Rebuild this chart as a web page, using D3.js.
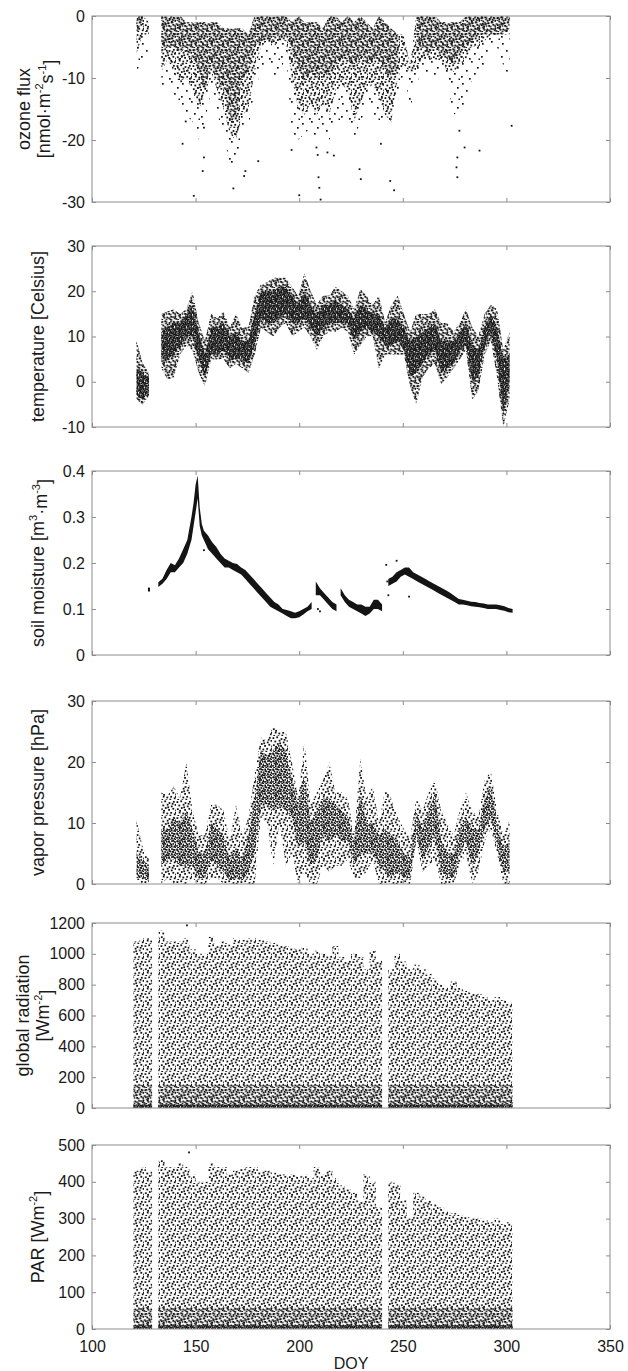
<!DOCTYPE html>
<html><head><meta charset="utf-8">
<script src="https://cdn.jsdelivr.net/npm/d3@7/dist/d3.min.js"></script>
<style>
body{margin:0;background:#fff}
svg{display:block}
</style>
</head><body><svg id="c" width="628" height="1371"></svg>
<script>
// ---------- DATA ----------
// 3-day bins (start DOY)
const binStart = [120,123,126,129,132,135,138,141,144,147,150,153,156,159,162,165,168,171,174,177,180,183,186,189,192,195,198,201,204,207,210,213,216,219,222,225,228,231,234,237,240,243,246,249,252,255,258,261,264,267,270,273,276,279,282,285,288,291,294,297,300];

// ozone flux [nmol m-2 s-1]
const ozoneHi = [0,0,-1,null,0, 0,0,0,-1,-1, -1,-1,-1,-1,-2, -2,-2,-2,-3,0, 0,0,0,0,0, -1,0,-1,-1,-1, -2,0,0,-1,0, -1,0,-1,-2,0, -1,-2,-3,-3,-8, 0,0,0,0,-1, -1,-1,-1,0,0, 0,0,0,0,0, 0];
const ozoneDenseLo = [-3,-1,null,null,-6, -5,-5,-6,-5,-7, -9,-12,-8,-10,-12, -16,-17,-10,-9,-5, -4,-4,-4,-3,-3, -6,-8,-11,-9,-10, -9,-10,-8,-7,-7, -9,-6,-8,-7,-7, -9,-10,-8,null,null, -6,-5,-6,-5,-6, -7,-8,-6,-5,-4, -3,-3,-3,-3,-3, -2];
const ozoneCoreLo = [-6,-3,-3,null,-9, -7,-9,-11,-10,-12, -15,-13,-9,-12,-15, -19,-20,-16,-15,-9, -5,-4,-5,-4,-4, -10,-15,-16,-14,-16, -14,-16,-12,-11,-12, -17,-14,-12,-11,-13, -16,-17,-10,-8,-9, -9,-7,-7,-7,-7, -9,-9,-8,-7,-5, -5,-4,-3,-3,-3, -3];
const ozoneLo = [-9,-7,-7,null,-13, -10,-13,-15,-16,-17, -20,-17,-12,-16,-19, -24,-25,-18,-18,-12, -9,-7,-10,-10,-6, -19,-20,-19,-18,-20, -18,-20,-18,-17,-16, -20,-17,-15,-16,-17, -17,-17,-14,-9,-15, -11,-9,-10,-10,-9, -11,-16,-15,-14,-10, -10,-8,-5,-5,-8, -10];
const ozoneOutDoy = [143.7,149.1,154,153.4,168.2,173.4,174,180.2,196.3,200,208.3,208.9,209.3,209.7,210.3,213.6,216.7,229.1,229.7,239.4,243.9,245.8,275.9,276.3,279.8,287,302.5,145.2,154,277.3,276.3];
const ozoneOutVal = [-20.6,-29,-22.8,-25,-27.8,-25.8,-25,-23.4,-21.6,-28.9,-21.2,-22.4,-26,-27.7,-29.6,-22,-22.5,-24.7,-26.3,-20.6,-26.6,-28.1,-24.4,-26,-21.2,-21.7,-17.7,-17,-18,-18.5,-22.8];

// temperature [Celsius]
const tempLo = [-4,-5,-3,null,3, 0.5,1,6,8,7, 2,-1,5,5,5, 3,4,3,2,6, 12,11,10,12,13, 10,11,12,10,7, 10,11,11,12,11, 6,8,10,10,3, 6,6,6,6,-1, -5,1,3,4,-0.5, 1,3,5,7,-4, -2,6,9,1,-10, -4];
const tempHi = [9,4,2,null,15, 15.5,16,15,16,20, 13,9,15,14,15.5, 12,15,12,12,19, 21.5,22,23,23,23, 21,19,24,20,17, 19,19,21,20,19, 16,20.5,19,17,19, 13,17,19,15,11, 15,15,15,16,13, 13,11,13,16,12, 10,15,17,16,7, 11];
const tempCoreLo = [-3,-4,-2,null,5, 5,6,8,10,10, 5,1,6,6,7, 5,5,5,4,8, 14,13,13,14,15, 13,13,14,12,10, 12,13,13,13,13, 9,11,12,11,10, 8,8,9,7,1, 2,4,6,7,2, 3,4,7,8,0, 1,8,11,5,-7, 0];
const tempCoreHi = [3,2,1,null,11, 12,13,13,15,17, 11,6,12,12,13, 10,11,9,9,15, 20,20,20,21,21, 19,17,20,17,15, 17,17,18,17,16, 14,17,16,15,15, 12,14,14,12,9, 10,11,12,13,9, 9,9,11,13,8, 7,12,15,12,5, 6];

// soil moisture [m3 m-3]  (null = gap in record)
const soilDoy = [127,128,130,132,134,136,138,140,142,144,146,148,149,150,151,152,153,154,156,158,160,162,164,166,168,170,172,174,176,178,180,182,184,186,188,190,192,194,196,198,200,202,204,206,207,208,210,212,214,216,218,219,220,222,224,226,228,230,232,234,236,238,240,241.5,243,245,247,249,251,253,255,257,259,261,263,265,267,269,271,273,275,277,279,281,283,285,287,289,291,293,295,297,299,301,303];
const soilLo = [0.138,0.138,null,0.148,0.155,0.165,0.18,0.18,0.19,0.2,0.22,0.25,0.28,0.31,0.34,0.28,0.26,0.25,0.23,0.22,0.21,0.2,0.19,0.19,0.185,0.18,0.175,0.165,0.155,0.145,0.135,0.125,0.115,0.105,0.1,0.095,0.09,0.085,0.08,0.08,0.082,0.088,0.095,0.1,null,0.13,0.13,0.12,0.11,0.1,0.095,null,0.13,0.115,0.105,0.1,0.095,0.09,0.085,0.09,0.1,0.1,0.095,null,0.15,0.155,0.16,0.17,0.175,0.17,0.165,0.16,0.155,0.15,0.145,0.14,0.135,0.13,0.125,0.12,0.115,0.11,0.11,0.108,0.106,0.105,0.104,0.102,0.1,0.1,0.1,0.098,0.096,0.093,0.092];
const soilHi = [0.147,0.146,null,0.158,0.166,0.185,0.2,0.195,0.21,0.23,0.25,0.3,0.33,0.37,0.39,0.32,0.285,0.27,0.26,0.245,0.235,0.22,0.21,0.205,0.2,0.198,0.19,0.185,0.175,0.165,0.155,0.145,0.135,0.125,0.115,0.11,0.1,0.098,0.095,0.092,0.095,0.1,0.105,0.115,null,0.16,0.145,0.135,0.125,0.115,0.11,null,0.145,0.13,0.12,0.115,0.11,0.11,0.105,0.105,0.12,0.12,0.11,null,0.165,0.17,0.18,0.185,0.19,0.19,0.18,0.175,0.17,0.165,0.16,0.155,0.15,0.145,0.14,0.135,0.128,0.122,0.12,0.118,0.116,0.115,0.113,0.112,0.11,0.11,0.11,0.108,0.106,0.102,0.1];
const soilOutDoy = [154,253,242,242.5,243,247,209,210];
const soilOutVal = [0.228,0.127,0.196,0.16,0.13,0.205,0.1,0.095];

// vapor pressure [hPa]
const vapLo = [0.5,0,0,null,0, 1,0,0,0,1, 0,0,1,1,0, 0,0,0,0,0, 11,10,3,10,3, 5,0,2,0,0, 3,2,3,3,4, 1,1,2,4,0, 0,0,0,0,0, 7,2,3,4,0, 0,0,3,5,0, 2,7,9,5,0, 0];
const vapHi = [10.5,6,4,null,15, 14.5,16,14,20,12, 8,8,13,13,12, 7,13,8,11,18, 24,23.5,26,25,25, 20,14,23.5,13,15, 17,20,15,15,14, 8,20.5,14,16,10, 15.5,14,11,9,7.5, 14,12,15,17,12, 10,8,12,15,12, 11,17,18.5,12,8, 10.5];
const vapCoreLo = [1,1,0.5,null,3, 4,4,3,3,3, 1,1,4,3,2, 0.5,1,0.5,2,5, 13,13,12,13,12, 11,6,7,3,4, 8,7,8,7,7, 3,5,5,5,3, 2,1,2,1,1, 8,4,6,8,2, 1,1,5,7,3, 5,9,11,6,2, 2];
const vapCoreHi = [5,4,3,null,9, 9,11,10,12,9, 5,5,10,9,8, 4,6,4,8,14, 22,21,22,23,22, 17,13,18,10,12, 14,14,13,12,11, 7,15,10,10,8, 9,8,7,5,4, 12,9,12,15,7, 5,5,9,11,9, 9,14,16,10,6, 7];

// global radiation [W m-2]  (3-day maximum envelope; minimum is 0)
const globMax = [1080,1100,1100,null,1150, 1080,1080,1080,1100,1030, 1000,1000,1110,1050,1080, 1060,1100,1090,1100,1100, 1090,1080,1070,1060,1050, 1040,1030,1040,1000,1020, 1000,990,1050,980,960, 1000,980,900,1020,960, null,900,1000,950,900, 930,900,870,840,800, 780,820,780,760,750, 740,720,700,720,700, 680];
const globLow = 150;
const globDense = 25;
const globOutDoy = [145.8];
const globOutVal = [1185];

// PAR [W m-2]
const parMax = [430,440,430,null,460, 440,440,450,440,420, 400,400,450,440,440, 420,430,435,440,440, 430,430,425,420,420, 420,415,420,410,440, 420,430,410,390,380, 370,350,420,400,330, null,400,390,350,300, 370,360,350,340,330, 320,315,310,305,300, 300,295,290,300,285, 290];
const parLow = 60;
const parDense = 10;
const parOutDoy = [146.8];
const parOutVal = [480];

const xTicks = [100,150,200,250,300,350];
const ozoneTicks = [0,-10,-20,-30];
const tempTicks = [-10,0,10,20,30];
const soilTicks = [0,0.1,0.2,0.3,0.4];
const vapTicks = [0,10,20,30];
const globTicks = [0,200,400,600,800,1000,1200];
const parTicks = [0,100,200,300,400,500];

// ---------- DRAWING ----------
const FONT = '"Liberation Sans", Arial, Helvetica, sans-serif';
const INK = "#141414", FRAME = "#8c8c8c";
const L = 92, R = 610;
const panelTop = [16,246,471,701,923,1145];
const panelBot = [202,427,655,884,1108,1329];
const x = d3.scaleLinear().domain([100,350]).range([L,R]);
const svg = d3.select("#c");
svg.append("rect").attr("width",628).attr("height",1371).attr("fill","#fff");
const defs = svg.append("defs");

function makePattern(id, size, pts, s, shift){
  const p = defs.append("pattern").attr("id",id).attr("patternUnits","userSpaceOnUse")
    .attr("width",size).attr("height",size);
  if (shift) p.attr("patternTransform",`translate(${shift[0]},${shift[1]})`);
  p.selectAll("rect").data(pts).join("rect")
    .attr("x",d=>d[0]).attr("y",d=>d[1]).attr("width",s).attr("height",s).attr("fill",INK);
}
const mediumPts = [[0.5,1.2],[4.3,0.4],[8.6,2.1],[12.9,0.9],[2.4,4.6],[6.7,3.8],[10.8,5.5],[14.6,4.0],[0.9,8.3],[4.9,7.1],[8.2,9.0],[12.4,7.9],[15.2,9.6],[2.8,11.7],[6.4,12.6],[10.3,11.9],[13.8,13.4],[1.3,15.0],[5.5,15.3],[9.4,14.7],[11.7,2.9],[3.2,9.9],[7.3,6.4],[15.0,12.0]];
makePattern("dense", 6, [[0,0],[2,0.6],[4.1,0.2],[1,2.1],[3.2,2.5],[5,2],[0.3,4.2],[2.3,4.6],[4.3,4.1]], 1.7);
makePattern("dark", 8, [[0.3,0.5],[3.1,0.2],[5.8,1.0],[1.6,2.6],[4.4,3.1],[7.0,3.6],[0.2,5.0],[2.9,5.4],[5.6,5.9],[1.5,7.3],[4.2,7.6],[6.9,6.9]], 1.7);
makePattern("medium", 16, mediumPts, 1.8);
makePattern("medium2", 16, mediumPts, 1.8, [7.3, 5.1]);
makePattern("sparse", 20, [[2,3],[11,1],[17,7],[6,10],[14,13],[1,16],[9,18],[18.5,18.5]], 1.7);

const val = (a,k) => Array.isArray(a) ? a[k] : a;

function makePanel(i, domain){
  const y = d3.scaleLinear().domain(domain).range([panelBot[i], panelTop[i]]);
  const g = svg.append("g");
  defs.append("clipPath").attr("id","cp"+i).append("rect")
    .attr("x",L).attr("y",panelTop[i]).attr("width",R-L).attr("height",panelBot[i]-panelTop[i]);
  const plot = g.append("g").attr("clip-path",`url(#cp${i})`);
  return {i, y, g, plot};
}
// ragged band through bin centres
function band(P, xs, lo, hi, fill, dx){
  const rows = xs.map((d,k)=>({d:d+dx, lo:val(lo,k), hi:val(hi,k)}));
  const a = d3.area().defined(e=>e.lo!=null && e.hi!=null)
    .x(e=>x(e.d)).y0(e=>P.y(e.lo)).y1(e=>P.y(e.hi));
  P.plot.append("path").attr("d",a(rows)).attr("fill",fill);
}
// blocky bins (radiation envelopes)
function bins(P, lo, hi, pat){
  const rows = binStart.map((d,k)=>({d, lo:val(lo,k), hi:val(hi,k)}))
    .filter(e=>e.lo!=null && e.hi!=null);
  P.plot.append("g").selectAll("rect").data(rows).join("rect")
    .attr("x",e=>x(e.d)).attr("width",e=>x(e.d+3)-x(e.d))
    .attr("y",e=>P.y(e.hi)).attr("height",e=>Math.max(0,P.y(e.lo)-P.y(e.hi)))
    .attr("fill",`url(#${pat})`);
}
function points(P, xs, ys){
  P.plot.append("g").selectAll("rect").data(xs.map((d,k)=>[d, ys[k]])).join("rect")
    .attr("x",d=>x(d[0])-0.85).attr("y",d=>P.y(d[1])-0.85).attr("width",1.8).attr("height",1.8).attr("fill",INK);
}
function styleAxis(a){
  a.select(".domain").remove();
  a.attr("font-family",FONT).attr("font-size",16);
  a.selectAll("line").attr("stroke",FRAME);
  a.selectAll("text").attr("fill","#1a1a1a");
}
const fmt = d => String(d);
function frame(P, ticks, showX){
  const i = P.i;
  P.g.append("rect").attr("x",L).attr("y",panelTop[i]).attr("width",R-L).attr("height",panelBot[i]-panelTop[i])
    .attr("fill","none").attr("stroke",FRAME).attr("stroke-width",1);
  P.g.append("g").attr("transform",`translate(${L},0)`)
    .call(d3.axisLeft(P.y).tickValues(ticks).tickSizeInner(-4).tickSizeOuter(0).tickPadding(7).tickFormat(fmt))
    .call(styleAxis);
  P.g.append("g").attr("transform",`translate(${R},0)`)
    .call(d3.axisRight(P.y).tickValues(ticks).tickSizeInner(-4).tickSizeOuter(0).tickFormat(""))
    .call(styleAxis);
  P.g.append("g").attr("transform",`translate(0,${panelTop[i]})`)
    .call(d3.axisTop(x).tickValues(xTicks).tickSizeInner(-4).tickSizeOuter(0).tickFormat(""))
    .call(styleAxis);
  P.g.append("g").attr("transform",`translate(0,${panelBot[i]})`)
    .call(d3.axisBottom(x).tickValues(xTicks).tickSizeInner(-4).tickSizeOuter(0).tickPadding(12)
      .tickFormat(showX ? fmt : ""))
    .call(styleAxis);
}
function ylabel(P, lines, xs){
  const cy = (panelTop[P.i]+panelBot[P.i])/2;
  lines.forEach((parts, li)=>{
    const t = svg.append("text").attr("transform",`translate(${xs[li]},${cy}) rotate(-90)`)
      .attr("text-anchor","middle").attr("dominant-baseline","central")
      .attr("font-family",FONT).attr("font-size",18).attr("fill","#1a1a1a");
    let shifted = false;
    parts.forEach(p=>{
      const sup = Array.isArray(p);
      const s = t.append("tspan").text(sup ? p[0] : p);
      if (sup && !shifted){ s.attr("dy","-0.45em").attr("font-size",11); shifted = true; }
      else if (sup) { s.attr("font-size",11); }
      else if (shifted){ s.attr("dy","0.45em"); shifted = false; }
    });
  });
}

// Panel 1: ozone flux
const P1 = makePanel(0, [-30,0]);
band(P1, binStart, ozoneLo, ozoneHi, "url(#sparse)", 1.5);
band(P1, binStart, ozoneCoreLo, ozoneHi, "url(#medium)", 1.5);
band(P1, binStart, ozoneDenseLo, ozoneHi, "url(#medium2)", 1.5);
points(P1, ozoneOutDoy, ozoneOutVal);
frame(P1, ozoneTicks, false);
ylabel(P1, [["ozone flux"], ["[nmol·m", ["-2"], "s", ["-1"], "]"]], [24, 44]);

// Panel 2: temperature
const P2 = makePanel(1, [-10,30]);
band(P2, binStart, tempLo, tempHi, "url(#medium)", 1.5);
band(P2, binStart, tempLo, tempHi, "url(#medium2)", 1.5);
band(P2, binStart, tempCoreLo, tempCoreHi, "url(#dense)", 1.5);
frame(P2, tempTicks, false);
ylabel(P2, [["temperature [Celsius]"]], [38]);

// Panel 3: soil moisture
const P3 = makePanel(2, [0,0.4]);
band(P3, soilDoy, soilLo, soilHi, INK, 0);
points(P3, soilOutDoy, soilOutVal);
frame(P3, soilTicks, false);
ylabel(P3, [["soil moisture [m", ["3"], "·m", ["-3"], "]"]], [38]);

// Panel 4: vapor pressure
const P4 = makePanel(3, [0,30]);
band(P4, binStart, vapLo, vapHi, "url(#medium)", 1.5);
band(P4, binStart, vapCoreLo, vapCoreHi, "url(#dark)", 1.5);
frame(P4, vapTicks, false);
ylabel(P4, [["vapor pressure [hPa]"]], [38]);

// Panel 5: global radiation
const P5 = makePanel(4, [0,1200]);
bins(P5, 0, globMax, "medium");
bins(P5, 0, globMax.map(m => m==null ? null : Math.min(m, globLow)), "medium2");
bins(P5, 0, globMax.map(m => m==null ? null : Math.min(m, globDense)), "dense");
points(P5, globOutDoy, globOutVal);
frame(P5, globTicks, false);
ylabel(P5, [["global radiation"], ["[Wm", ["-2"], "]"]], [23, 43]);

// Panel 6: PAR
const P6 = makePanel(5, [0,500]);
bins(P6, 0, parMax, "medium");
bins(P6, 0, parMax.map(m => m==null ? null : Math.min(m, parLow)), "medium2");
bins(P6, 0, parMax.map(m => m==null ? null : Math.min(m, parDense)), "dense");
points(P6, parOutDoy, parOutVal);
frame(P6, parTicks, true);
ylabel(P6, [["PAR [Wm", ["-2"], "]"]], [38]);

svg.append("text").attr("x",(L+R)/2).attr("y",1369).attr("text-anchor","middle")
  .attr("font-family",FONT).attr("font-size",16).attr("fill","#1a1a1a").text("DOY");
</script></body></html>
